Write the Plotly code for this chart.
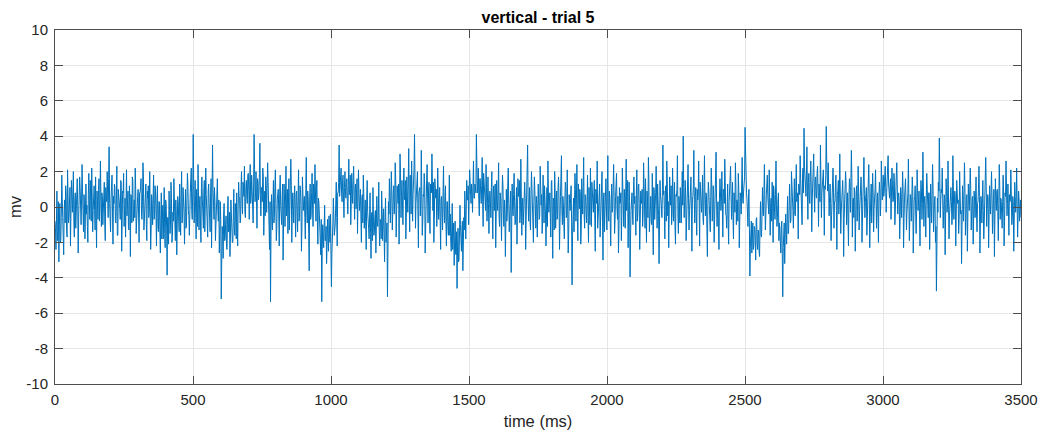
import plotly.graph_objects as go

# Signal values (mV).
# "a" rows hold the even samples, "b" rows the odd samples of the same stretch of time.
a00 = [-0.8, -2.4, 0.9, -1.6, -3.1, 0.2, -1.9, 1.8, -0.6, -2.7, 0.4, 1.2, -1.3, 2.1, -0.9, 0.6, -2.2, 1.5, -0.3, 2.0, -1.7, 0.8, -0.4, 1.6, -2.6, 0.3, 1.1, -1.0, 2.4, -0.5, 0.7, -1.8, 1.3, 0.1, -2.0, 1.9, -0.7, 0.5, 2.2, -1.4, 0.9, -0.2, 1.7, -2.3, 0.4, 1.0, -0.8, 2.6, -1.1, 0.6]
a01 = [-0.3, 1.4, -1.9, 0.8, 2.0, -0.6, 3.4, -1.2, 0.5, 1.8, -2.1, 0.2, 1.1, -0.9, 2.3, -1.6, 0.7, -0.1, 1.5, -2.5, 0.9, 1.9, -0.4, -1.7, 2.1, 0.3, -1.1, 1.2, -2.8, 0.6, 1.7, -0.8, 0.4, 2.2, -1.5, -0.2, 1.0, -2.0, 0.8, 1.6, -0.7, 2.5, -1.3, 0.1, 1.3, -1.9, 0.5, -0.6, 2.0, -2.4]
a02 = [0.7, -1.0, 1.8, -0.5, 0.9, -2.2, 1.2, -1.4, 0.3, -2.6, 0.8, -0.9, -1.8, 1.1, -2.3, 0.2, -3.85, -0.6, 0.9, -1.5, 1.4, -2.0, -0.3, 1.6, -1.2, 0.4, -2.7, 0.6, -0.8, 1.3, -1.6, 2.0, -0.4, 0.5, -2.1, 1.0, -1.1, 1.9, -0.2, -1.6, 0.8, 2.2, -0.7, 4.1, -0.9, 1.5, -1.8, 0.3, 2.4, -1.3]
a03 = [0.6, -2.0, 1.7, -0.5, 0.9, -1.4, 2.2, 0.1, -1.7, 1.3, -0.6, 0.8, -2.3, 3.5, -0.4, 1.1, -1.9, 0.5, 1.6, -0.8, -2.6, 0.3, -5.2, -1.1, -2.9, 0.2, -1.8, -0.5, -2.4, 0.6, -1.3, -2.8, 0.4, -0.9, -2.0, 1.0, -1.6, -0.3, 0.8, -2.2, 1.4, 0.5, -0.8, 2.0, -0.4, 1.2, 2.3, -0.6, 1.5, 0.2]
a04 = [1.9, -0.7, 2.4, 0.6, 1.2, -0.9, 4.1, 0.3, 2.0, -1.2, 1.4, 0.8, 3.6, -0.5, 1.1, 2.2, -1.6, 0.9, 1.7, -0.3, 2.5, 0.1, -2.4, -5.35, 0.7, -1.3, 1.5, -0.6, 2.1, -1.9, 0.4, 1.0, -2.2, 1.8, -0.8, 0.5, -3.0, 1.3, -1.1, 2.3, 0.2, -1.5, 1.6, -0.4, 2.7, -2.0, 0.8, -0.9, 1.2, -1.7]
a05 = [0.9, -1.4, 2.1, -0.6, 1.0, -2.5, 1.7, -0.2, 0.6, -1.8, 2.8, -0.9, 0.4, -3.6, 1.3, -0.5, 1.9, -1.1, 0.7, 2.4, -0.8, 1.5, -2.1, 0.3, -1.3, -2.7, -5.35, -1.0, -2.3, 0.1, -1.9, -3.2, -0.7, -2.5, -1.2, -0.4, -4.5, -2.0, 0.5, -1.6, -0.9, 1.4, -2.2, 0.8, 3.5, 1.1, 2.2, 0.3, 1.8, -0.6]
a06 = [2.0, 0.5, 1.6, -0.4, 2.7, 0.9, -1.0, 1.9, 0.2, 2.3, -0.7, 1.3, 0.6, -1.5, 2.1, -0.2, 1.0, -2.0, 0.7, 1.8, -1.2, 0.4, -2.4, 1.5, -0.6, -1.8, 0.8, -2.9, -0.3, 1.1, -1.6, -0.5, -2.6, 0.6, -1.1, 1.4, -2.2, -0.8, 0.9, -1.9, -0.1, -3.1, 0.5, -1.4, -5.07, 0.3, 1.6, -0.9, 2.0, -1.3]
a07 = [0.8, -0.4, 2.5, -1.7, 1.2, 0.2, -2.1, 3.0, -0.6, 1.5, -1.0, 2.2, 0.4, -1.8, 1.7, -0.3, 3.3, -1.4, 0.9, 2.6, -0.8, 1.3, 4.1, -1.2, 0.6, 2.0, -2.3, 1.0, -0.5, 3.2, -1.6, 0.7, 1.9, -2.6, 0.3, 2.4, -0.9, 1.4, -1.5, 0.8, 3.0, -0.2, -2.0, 1.6, 0.5, -1.1, 2.2, -0.7, 1.1, -2.4]
a08 = [0.6, -1.3, 2.3, -0.9, 1.2, -2.2, 0.3, -1.6, 1.8, -0.4, -2.5, 0.2, -1.9, -3.3, -0.8, -2.7, -4.6, -1.2, -3.0, 0.1, -2.1, -1.4, -3.6, -0.6, 0.9, -1.8, 1.5, 0.4, -1.0, 2.1, 0.7, 1.3, -0.3, 2.6, 0.5, 1.1, 4.1, 0.8, 2.2, -0.5, 1.6, 0.2, 2.8, -1.1, 1.0, 0.4, 2.4, -0.8, 1.7, -1.5]
a09 = [0.9, -0.6, 2.0, -1.8, 1.2, 0.3, -2.3, 1.5, -0.2, 2.5, -1.1, 0.6, -1.9, 1.8, -0.7, 0.4, -2.8, 1.0, -0.3, 2.2, -1.4, 0.7, -3.7, 1.3, -0.5, 1.9, -1.0, 0.2, -2.1, 1.6, 0.8, -0.9, 2.7, -1.6, 0.5, -0.2, 1.4, -2.4, 0.9, 3.5, -0.8, 1.1, -1.3, 2.0, 0.3, -2.0, 1.7, -0.4, 0.6, -1.7]
a10 = [1.3, -0.7, 2.3, 0.1, -1.5, 1.8, -0.9, 0.5, -2.2, 1.1, 2.6, -0.3, 0.8, -1.7, 1.5, -2.9, 0.4, 2.0, -1.2, 0.9, -0.5, 1.7, -2.4, 0.6, 2.9, -1.0, 0.2, -1.8, 1.4, -0.6, 2.1, -2.6, 0.7, -0.2, 1.2, -4.4, 0.3, -1.4, 1.9, -0.8, 2.4, -1.9, 0.5, 1.0, -2.1, 1.6, -0.4, 2.8, -1.2, 0.6]
a11 = [-0.9, 1.8, -2.0, 0.4, 2.2, -1.1, 0.7, -0.3, 1.5, -2.5, 0.9, 2.6, -0.6, 1.2, -1.7, 0.2, 2.0, -3.0, 0.8, -0.4, 1.6, -1.3, 2.9, -0.8, 0.5, -2.2, 1.3, -0.1, 2.4, -1.5, 0.6, 1.9, -0.7, -2.6, 1.1, 0.3, -1.9, 2.2, -0.5, 1.0, -1.2, 2.7, 0.4, -2.3, 1.4, -3.95, -0.2, 0.8, -1.0, 1.7]
a12 = [0.6, -1.6, 2.1, -0.4, 1.3, -2.4, 0.9, 0.2, -1.1, 2.5, -0.7, 1.6, -2.0, 0.5, 2.8, -1.4, 0.3, -0.9, 1.9, -2.7, 1.0, -0.2, 2.3, -1.2, 0.7, -3.2, 1.5, 0.4, -0.6, 3.5, 0.9, -1.8, 1.2, 2.6, -0.5, -2.3, 1.7, 0.1, -1.0, 2.2, -0.8, 1.4, -2.1, 0.6, 2.9, -1.5, 0.3, 1.1, -0.9, 2.0]
a13 = [4.0, -0.6, 1.5, -1.9, 0.8, 2.4, -1.3, 0.2, 1.7, -2.5, 0.6, 3.2, -0.9, 1.1, -1.6, 0.4, 2.6, -2.2, 0.9, -0.3, 1.8, -1.0, 2.9, -0.5, 0.7, -2.8, 1.4, 0.1, -1.4, 2.2, -0.8, 1.2, -2.0, 0.5, 3.1, -1.1, 0.3, -2.4, 1.6, -0.2, 2.0, -1.7, 0.8, 2.7, -0.4, -1.2, 1.3, -2.1, 0.9, 2.3]
a14 = [-0.7, 1.4, -1.8, 0.6, 2.5, -1.0, 0.3, 1.9, -2.3, 0.8, -0.4, 2.8, 0.2, 1.2, 4.5, 1.6, 0.4, -1.1, 1.0, -3.9, -1.5, -2.6, -0.9, -2.2, -1.2, -3.0, -0.6, -2.4, -1.4, -2.8, 0.3, -1.7, 1.1, -0.5, 2.4, -1.3, 0.7, 1.8, -0.2, 2.1, -1.6, 0.5, 1.4, -2.0, 0.9, -0.7, 2.6, -1.1, 0.4, -1.9]
a15 = [-1.3, -2.6, -0.8, -5.07, -1.7, -3.2, -0.4, -2.1, 0.6, -1.5, 1.3, -0.9, 2.0, 0.3, -1.2, 1.6, -0.5, 2.4, 0.8, -1.8, 1.2, 2.9, 0.4, -1.0, 2.2, 4.45, 1.5, 0.6, 3.4, -0.7, 1.9, 0.2, 2.6, -1.4, 1.1, 3.0, -0.3, 1.7, 0.5, 2.3, -1.1, 0.8, 3.5, -0.6, 1.4, 2.1, -1.6, 1.0, 4.55, 1.2]
a16 = [2.5, -0.5, 1.3, -1.9, 0.7, 2.2, -1.2, 0.3, 1.8, -2.4, 0.9, -0.4, 3.0, -1.5, 0.6, 1.5, -2.8, 0.2, 2.0, -1.0, 0.8, -2.2, 1.6, -0.3, 3.2, -1.7, 0.5, 1.1, -2.5, 0.9, -0.8, 2.3, -1.3, 0.4, 1.7, -2.0, 0.7, 2.8, -0.6, 1.0, -1.6, 0.2, 2.4, -2.3, 0.6, -0.9, 1.9, -1.4, 0.3, 2.1]
a17 = [-1.2, 0.8, -2.0, 1.4, -0.5, 2.6, 0.4, 1.8, 0.9, 2.3, -0.3, 1.5, 2.9, 0.6, 1.2, -0.7, 2.2, 0.3, 1.9, -1.0, 1.4, 2.5, -0.4, 0.8, -1.8, 1.1, -0.6, 2.0, -2.3, 0.5, 1.6, -1.3, 0.2, 2.7, -1.9, 0.7, -0.8, 1.7, -2.6, 0.4, 1.2, -1.5, 2.1, -0.2, 0.9, -2.2, 1.5, -0.7, 3.1, -1.1]
a18 = [0.6, -1.7, 1.9, -0.5, 0.8, -2.4, 1.3, -0.9, 2.4, -1.4, 0.3, -2.0, -4.75, 0.5, 1.4, 3.9, -0.6, 1.0, 2.2, -1.2, 0.7, -2.7, 1.6, -0.3, 2.6, -1.8, 0.4, 1.1, -1.0, 2.9, -0.7, 0.9, -2.2, 1.5, 0.2, -1.5, 2.0, -0.4, -3.2, 1.2, -0.8, 2.5, -1.6, 0.6, -2.5, 1.3, -0.2, 2.2, -1.3, 0.5]
a19 = [-2.1, 0.9, -0.6, 1.7, -1.4, 0.3, 2.3, -2.6, 0.6, -0.9, 1.5, -1.8, 0.2, 2.8, -1.1, 0.7, -2.3, 1.2, -0.4, 2.0, -1.5, 0.5, -2.8, 1.6, -0.2, 1.0, -1.9, 2.4, -0.7, 0.4, -1.2, 1.8, -2.2, 0.8, 2.6, -0.5, 1.3, -1.6, 0.3, 2.1, -1.0, 0.6, -2.5, 1.4, -0.3, 2.2, -1.7, 0.9, -0.8, 0.4]

b00 = [-1.2, -0.4, -1.9, 0.3, -1.0, -2.0, -0.6, 0.5, -1.5, -0.2, -0.9, 0.8, -1.7, 0.2, -0.5, 1.1, -0.3, 0.6, 1.4, -0.8, 0.4, -1.2, 1.0, 0.1, -0.6, 1.7, -0.9, 0.5, 0.9, -1.4, 0.2, 1.3, -0.4, -1.1, 0.7, 0.3, 1.5, -0.8, 0.6, -0.2, 1.2, -1.3, 0.4, 0.9, -0.7, 1.6, 0.1, -0.5, 0.8, -1.0]
b01 = [0.5, -0.9, 1.1, 0.3, -0.6, 1.6, 0.2, -1.4, 0.9, -0.3, 0.6, 1.3, -0.8, 0.4, -1.6, 1.0, 0.2, -0.7, 1.4, -0.2, 0.8, -1.1, 0.5, 1.2, -0.5, 0.9, -1.3, 0.3, 0.7, -0.9, 1.5, 0.1, -0.6, 1.0, -0.2, 0.6, -1.5, 0.8, 1.1, -0.4, 0.3, 1.7, -0.8, 0.5, -1.0, 0.9, 1.2, -0.3, 0.4, -1.2]
b02 = [0.2, 0.9, -0.7, 1.2, -0.4, 0.5, -1.1, 0.3, -1.3, -0.5, -1.8, 0.1, -0.9, -1.5, 0.4, -1.2, -0.6, -2.1, -0.2, -1.0, 0.5, -1.6, -0.8, 0.2, -1.9, -0.4, -1.1, 0.3, -1.4, -0.6, 0.6, -0.9, 1.1, -0.3, 0.7, -1.2, 0.4, 1.3, -0.5, 0.8, 1.6, -0.2, 0.9, 1.4, 0.3, -0.7, 1.0, -1.1, 0.6, 0.2]
b03 = [-0.8, 1.1, 0.4, -1.2, 1.5, -0.3, 0.7, -1.0, 0.9, 0.2, -1.4, 1.6, 0.5, 1.0, -0.7, 0.3, -1.1, 0.8, -0.2, 0.4, -1.5, -0.7, -2.2, -1.6, -0.4, -1.9, -1.0, -2.3, -0.6, -1.4, -0.3, -1.7, -1.0, -2.0, -0.5, -1.2, 0.2, -1.8, -0.9, -0.1, 0.6, -0.9, 1.2, 0.3, 1.4, 0.6, -0.3, 1.1, 0.5, 1.8]
b04 = [0.9, 1.5, 0.2, 1.8, 0.6, 1.3, 2.1, 0.8, -0.2, 1.6, 0.4, 1.9, 0.7, 1.1, 0.3, 1.7, 0.6, -0.5, 1.2, 0.9, 1.4, -0.6, 0.3, -1.4, -0.4, 0.8, -0.9, 1.1, 0.2, -1.2, 0.7, -0.3, 0.9, 0.1, -1.0, 1.3, -0.7, 0.4, 0.8, -0.5, 1.0, 0.3, -1.3, 0.6, 1.2, -0.2, -0.9, 0.5, -0.4, 0.7]
b05 = [-0.3, 0.6, -0.8, 1.2, 0.1, -1.1, 0.7, 0.3, -0.6, 1.0, -0.2, 0.9, -1.5, 0.4, -0.7, 0.8, -0.1, 1.3, 0.2, -0.5, 1.1, -0.9, 0.5, -0.4, -1.8, -0.7, -2.4, -1.5, -0.6, -1.9, -1.1, -2.2, -1.4, -0.5, -2.0, -1.6, -2.6, -0.9, -0.2, -1.3, 0.3, -0.6, 0.8, 1.4, 0.6, 1.9, 0.9, 1.3, 0.4, 1.1]
b06 = [0.9, 1.4, 0.3, 1.2, 0.7, 1.8, 0.2, 1.0, 1.5, 0.6, 1.1, -0.1, 1.6, 0.4, 0.8, 0.3, -0.6, 0.5, -0.9, 0.7, 0.2, -1.1, 0.4, -0.3, -1.2, -0.7, -1.5, -0.4, -1.9, -0.8, -1.3, -0.2, -1.6, -0.9, -0.5, -1.4, -0.7, -1.8, -0.3, -1.0, -1.5, -0.6, -2.0, -0.9, -1.7, -0.4, 0.6, 0.2, 0.9, -0.3]
b07 = [1.2, 0.4, 1.6, -0.5, 0.8, 1.3, -0.2, 1.9, 0.6, 0.1, 1.1, 0.5, 1.5, -0.6, 0.9, 1.4, 0.3, 1.8, -0.4, 1.0, 0.7, 2.2, 1.2, 0.2, 1.6, -0.3, 0.8, 1.1, 0.4, 1.7, -0.8, 0.6, 1.2, -0.1, 1.5, 0.3, 0.9, -0.5, 1.3, 0.8, 0.2, 1.4, -0.7, 0.6, 1.0, -0.3, 0.7, 0.1, -0.6, 0.4]
b08 = [-0.4, 0.8, -0.2, 0.6, -0.9, 0.3, -1.1, -0.5, -1.6, -2.0, -1.2, -2.4, -0.9, -1.8, -2.6, -1.4, -2.2, -3.1, -1.7, -1.0, -2.5, -0.8, -1.9, -1.3, -0.2, -0.7, 0.4, 1.2, 0.6, 1.5, 0.2, 0.9, 1.8, 0.5, 1.3, 0.8, 2.0, 1.1, 0.4, 1.6, 0.7, 1.2, 0.3, 1.9, 0.6, -0.2, 1.1, 0.8, 0.2, 0.5]
b09 = [0.3, 1.1, -0.5, 0.7, -0.2, 1.3, -0.9, 0.4, 1.0, -0.6, 0.8, -0.3, 0.5, 1.2, -1.1, -0.4, 0.6, -0.8, 1.4, 0.2, -0.5, 0.9, -1.4, -0.2, 0.7, 0.3, -0.9, 1.1, -0.4, 0.6, 1.5, -0.3, 0.8, 0.1, -1.0, 0.9, 0.4, -0.7, 1.6, 0.5, 0.2, -0.8, 0.7, 1.1, -0.5, 0.3, 0.9, -1.2, 0.2, 0.6]
b10 = [0.4, -0.5, 1.0, 0.7, -0.9, 0.3, 1.2, -0.4, 0.6, -1.1, 0.9, 0.2, -0.6, 1.4, -0.3, 0.5, -1.3, 0.8, 0.1, -0.7, 1.1, 0.4, -0.9, 1.5, -0.2, 0.6, -1.0, 0.3, 1.2, -0.5, 0.7, -1.5, 0.2, 0.9, -0.8, -1.6, 0.5, -0.3, 1.0, 0.4, -0.6, 1.3, -0.1, 0.8, -1.2, 0.3, 1.1, -0.4, 0.7, -0.2]
b11 = [0.3, -0.6, 1.1, -1.0, 0.5, 1.4, -0.2, 0.8, -0.7, 1.0, 0.2, -1.2, 0.6, 1.3, -0.4, 0.9, -0.8, 0.4, -1.4, 0.7, 0.1, 1.2, -0.5, 0.9, -0.9, 0.3, -0.3, 1.1, 0.5, -0.7, 1.4, -0.1, 0.6, -1.3, 0.2, 0.8, -0.5, 1.0, -1.1, 0.4, 0.7, -0.2, 1.5, -0.8, 0.3, -1.7, 0.5, -0.4, 0.9, 0.2]
b12 = [-0.3, 0.7, -0.8, 1.2, 0.2, -0.9, 0.5, 1.0, -0.4, 0.8, -1.2, 0.3, 0.9, -0.6, 1.4, -0.2, 0.6, -1.0, 0.4, 1.1, -0.7, 0.8, -0.1, 1.3, -0.5, -1.4, 0.6, -0.3, 1.0, 0.7, -0.2, 0.9, -0.8, 1.5, 0.3, -0.6, 0.8, 1.2, -0.4, 0.5, 0.2, -1.1, 0.7, 1.0, -0.3, 0.6, -0.9, 0.4, 1.2, 0.1]
b13 = [1.1, 0.3, 0.8, -0.6, 1.3, 0.5, -0.2, 0.9, -1.1, 0.4, 1.2, 0.2, 0.6, -0.5, 1.0, 0.7, -0.9, 1.4, 0.1, 0.5, -0.7, 1.1, 0.4, 0.8, -1.2, 0.2, 0.9, -0.4, 0.6, 1.3, -0.3, 0.7, -1.0, 1.2, 0.4, -0.2, -1.1, 0.5, 0.9, 0.3, -0.6, 1.0, 0.2, 1.4, -0.5, 0.6, -0.8, 0.3, 1.1, 0.7]
b14 = [0.2, -0.6, 0.8, -0.3, 1.2, 0.4, -0.8, 1.0, -0.2, 0.6, 1.3, 0.5, 0.9, 1.7, 2.0, 0.8, -0.4, 0.3, -1.2, -2.2, -0.8, -1.7, -2.4, -1.1, -1.9, -0.7, -2.0, -1.3, -2.5, -0.9, -1.6, -0.6, -0.2, 0.7, 0.3, -0.5, 1.1, 0.6, -0.4, 0.9, 0.2, -0.8, 0.5, 1.2, -0.3, 0.7, 0.1, -0.6, 0.8, -0.9]
b15 = [-2.0, -1.1, -2.7, -2.3, -0.9, -1.8, -1.2, -0.6, -1.5, -0.3, 0.2, -0.7, 0.6, -0.2, 0.9, -0.4, 1.1, 0.3, 0.5, 1.3, 0.7, 1.6, 1.0, 1.9, 0.8, 2.3, 1.2, 1.8, 0.9, 1.4, 0.5, 1.7, 1.1, 0.4, 2.0, 1.0, 1.5, 0.6, 1.9, 0.9, 1.3, 0.3, 1.6, 0.8, 2.1, 0.5, 1.2, 1.8, 2.4, 0.9]
b16 = [1.3, 0.6, 0.2, -0.5, 1.1, 0.8, 0.3, 1.2, -0.2, 0.7, 1.5, 0.4, 0.9, -0.3, 1.0, 0.5, -0.7, 0.8, 1.3, 0.2, -0.4, 0.6, 1.1, 0.9, 1.6, 0.3, -0.6, 0.7, 0.1, 1.2, 0.4, 0.8, -0.2, 1.4, 0.6, -0.5, 1.0, 0.7, 0.3, 1.1, -0.3, 0.9, 0.5, -0.6, 1.3, 0.2, 0.8, -0.1, 1.0, 0.6]
b17 = [0.2, -0.4, 0.6, 0.9, 0.3, 1.4, 1.0, 0.6, 1.7, 1.1, 0.8, 2.0, 1.3, 0.5, 1.6, 0.9, 1.2, 0.4, 1.5, 0.7, 1.8, 1.0, 0.6, 0.3, -0.5, 0.7, 0.2, 0.9, -0.6, 1.1, 0.4, -0.3, 0.8, 1.2, -0.4, 0.5, 0.1, 1.0, -0.9, 0.6, 0.3, -0.2, 1.1, 0.7, -0.5, 0.4, 0.9, 0.2, 1.4, 0.3]
b18 = [-0.2, 0.5, 1.0, -0.6, 0.8, -0.9, 0.3, 0.7, 1.1, -0.4, 0.6, -1.1, -1.8, -0.3, 0.9, 1.6, 0.4, 0.8, 1.2, -0.2, 0.5, -0.8, 0.9, 0.2, 1.1, -0.5, 0.7, 0.3, -0.4, 1.3, 0.1, 0.6, -0.9, 0.8, 0.4, -0.7, 1.0, -0.2, -1.2, 0.5, 0.2, 1.1, -0.6, 0.7, -0.9, 0.4, 0.8, 1.0, -0.3, 0.6]
b19 = [-0.7, 0.3, 0.8, -0.4, 0.2, 1.0, 0.6, -0.9, 0.4, 0.7, -0.2, -0.8, 0.9, 1.2, -0.1, 0.5, -0.9, 0.3, 0.8, 0.6, -0.5, 1.0, -0.7, 0.4, 0.9, -0.3, 0.2, 1.1, 0.5, -0.4, 0.3, 0.9, -0.8, 0.6, 1.3, 0.2, -0.3, 0.7, 0.4, 0.9, -0.6, 0.3, -0.9, 0.6, 0.2, 1.0, -0.5, 0.4, 0.1, -0.6]

even_samples = (a00 + a01 + a02 + a03 + a04 + a05 + a06 + a07 + a08 + a09
                + a10 + a11 + a12 + a13 + a14 + a15 + a16 + a17 + a18 + a19)
odd_samples = (b00 + b01 + b02 + b03 + b04 + b05 + b06 + b07 + b08 + b09
               + b10 + b11 + b12 + b13 + b14 + b15 + b16 + b17 + b18 + b19)

signal_mv = []
for ev, od in zip(even_samples, odd_samples):
    signal_mv.append(ev)
    signal_mv.append(od)

trial_duration_ms = 3500
n = len(signal_mv)
time_ms = [i * trial_duration_ms / (n - 1) for i in range(n)]

x_tick_vals = [0, 500, 1000, 1500, 2000, 2500, 3000, 3500]
y_tick_vals = [10, 8, 6, 4, 2, 0, -2, -4, -6, -8, -10]
y_tick_text = ["10", "8", "6", "4", "2", "0", "-2", "-4", "-6", "-8", "-10"]

title_text = "vertical - trial 5"
x_label = "time (ms)"
y_label = "mv"

font_family = "Liberation Sans, Arial, Helvetica, sans-serif"
axis_color = "#4d4d4d"
grid_color = "#e6e6e6"

fig = go.Figure()
fig.add_trace(go.Scatter(
    x=time_ms, y=signal_mv, mode="lines",
    line=dict(color="#0072BD", width=1.0),
    hoverinfo="skip", showlegend=False,
))

fig.update_layout(
    width=1043, height=434,
    margin=dict(l=55, r=22, t=30, b=50, autoexpand=False),
    paper_bgcolor="white", plot_bgcolor="white",
    font=dict(family=font_family, size=15, color="#262626"),
    title=dict(text="<b>" + title_text + "</b>", x=0.5, xanchor="center",
               xref="paper", y=1 - 17 / 434, yref="container", yanchor="middle",
               font=dict(size=16, color="#000000", family=font_family)),
)
fig.update_xaxes(
    range=[0, 3500], tickvals=x_tick_vals, automargin=False,
    ticks="inside", ticklen=8, tickcolor=axis_color, tickwidth=1,
    showline=True, linecolor=axis_color, linewidth=1, mirror="ticks",
    showgrid=True, gridcolor=grid_color, gridwidth=1, zeroline=False,
    tickfont=dict(size=15, color="#262626"), ticklabelstandoff=2,
    title=dict(text=x_label, font=dict(size=16.5, color="#262626"), standoff=8),
)
fig.update_yaxes(
    range=[-10, 10], tickvals=y_tick_vals, ticktext=y_tick_text, automargin=False,
    ticks="inside", ticklen=8, tickcolor=axis_color, tickwidth=1,
    showline=True, linecolor=axis_color, linewidth=1, mirror="ticks",
    showgrid=True, gridcolor=grid_color, gridwidth=1, zeroline=False,
    tickfont=dict(size=15, color="#262626"), ticklabelstandoff=3,
    title=dict(text=y_label, font=dict(size=16.5, color="#262626"), standoff=0),
)

fig.write_html("out.html", config={"displayModeBar": False},
               post_script="document.body.style.margin='0';")
